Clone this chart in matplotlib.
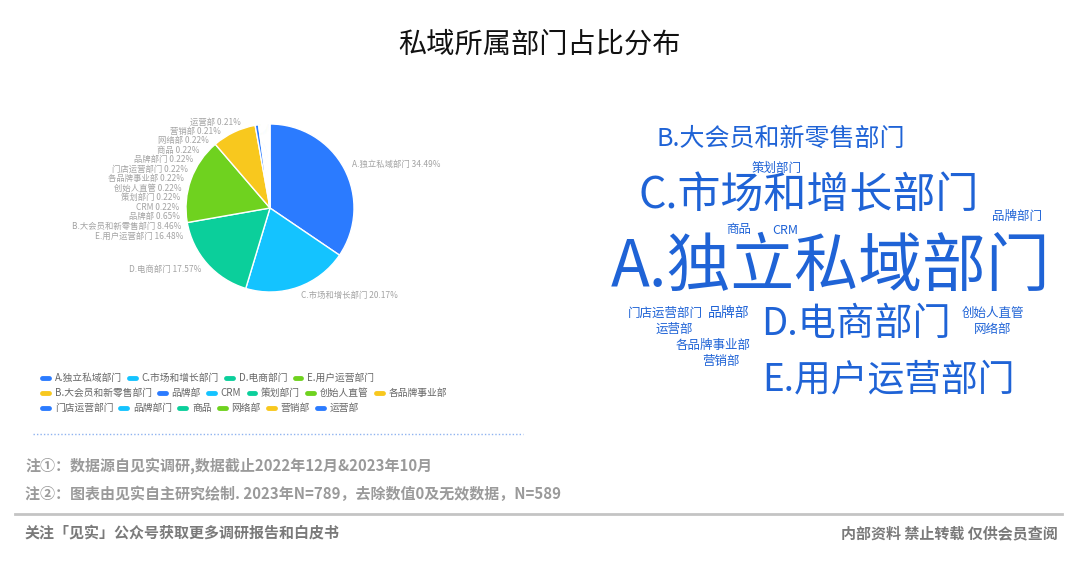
#-----------------------------------------------
# 私域所属部门占比分布 - pie + word cloud
#-----------------------------------------------
import numpy as np
import matplotlib.pyplot as plt
from matplotlib.lines import Line2D

plt.rcParams['font.family'] = ['Noto Sans CJK SC', 'DejaVu Sans']

#-----------------------------------------------
# data
#-----------------------------------------------
departments = ['A.独立私域部门', 'C.市场和增长部门', 'D.电商部门', 'E.用户运营部门',
               'B.大会员和新零售部门', '品牌部', 'CRM', '策划部门', '创始人直管',
               '各品牌事业部', '门店运营部门', '品牌部门', '商品', '网络部', '营销部', '运营部']
shares = [34.49, 20.17, 17.57, 16.48, 8.46, 0.65, 0.22, 0.22, 0.22,
          0.22, 0.22, 0.22, 0.22, 0.22, 0.21, 0.21]
legend_rows = [4, 6, 6]          # items per legend row

# word cloud layout: (word, centre x px, centre y px, font size)
cloud_layout = [
    ('B.大会员和新零售部门', 781, 139, 18),
    ('策划部门', 777, 168, 9),
    ('C.市场和增长部门', 809, 196, 31),
    ('品牌部门', 1017, 216, 9),
    ('商品', 739, 230, 9),
    ('CRM', 785, 230, 9),
    ('A.独立私域部门', 831, 268, 46),
    ('门店运营部门', 665, 313, 9),
    ('品牌部', 729, 313, 10),
    ('运营部', 674, 329, 9),
    ('D.电商部门', 856, 325, 27.5),
    ('创始人直管', 993, 313, 9),
    ('网络部', 993, 329, 9),
    ('各品牌事业部', 713, 345, 9),
    ('营销部', 721, 361, 9),
    ('E.用户运营部门', 889, 380, 26.5),
]

palette = ['#2b7bff', '#14c3ff', '#0bcf9b', '#6fd21f', '#f8c81e']
colors = [palette[i % len(palette)] for i in range(len(departments))]

W, H = 1080, 565
fig = plt.figure(figsize=(W / 100, H / 100), dpi=100)

def fx(px):
    return px / W

def fy(py):
    return 1 - py / H

#-----------------------------------------------
# title
#-----------------------------------------------
fig.text(0.5, fy(45), '私域所属部门占比分布', ha='center', va='center',
         fontsize=20.3, color='#111111')

#-----------------------------------------------
# pie
#-----------------------------------------------
cx, cy, half = 270, 208, 126
ax = fig.add_axes([fx(cx - half), fy(cy + half), 2 * half / W, 2 * half / H])
wedges, _ = ax.pie(shares, colors=colors, startangle=90, counterclock=False,
                   radius=1, wedgeprops=dict(edgecolor='white', linewidth=1))
ax.set_xlim(-1.5, 1.5)
ax.set_ylim(-1.5, 1.5)
ax.axis('off')

label_color = '#a3a3a3'
# three largest slices get labels at their mid angle
for i in range(3):
    w = wedges[i]
    ang = np.deg2rad((w.theta1 + w.theta2) / 2)
    x, y = 1.1 * np.cos(ang), 1.1 * np.sin(ang)
    ax.text(x, y, f'{departments[i]} {shares[i]:.2f}%', ha='left' if x > 0 else 'right',
            va='center', fontsize=6, color=label_color, clip_on=False)

# the rest are stacked on the left
stack = list(range(len(departments) - 1, 2, -1))
for k, i in enumerate(stack):
    y = 1.024 - k * 0.113
    x = -np.sqrt(max(1.08 ** 2 - y ** 2, 0))
    ax.text(x, y, f'{departments[i]} {shares[i]:.2f}%', ha='right', va='center',
            fontsize=6, color=label_color, clip_on=False)

#-----------------------------------------------
# legend (three rows, flow layout)
#-----------------------------------------------
start = 0
for r, n in enumerate(legend_rows):
    idx = range(start, start + n)
    handles = [Line2D([0], [0], color=colors[i], lw=3.5, solid_capstyle='round') for i in idx]
    labels = [departments[i] for i in idx]
    fig.legend(handles, labels, loc='center left', bbox_to_anchor=(fx(42), fy(378 + 15 * r)),
               ncol=n, frameon=False, fontsize=7, labelcolor='#666666',
               handlelength=0.7, handletextpad=0.6, columnspacing=0.75,
               borderpad=0, borderaxespad=0)
    start += n

# dotted separator under the pie
fig.add_artist(Line2D([fx(33), fx(523)], [fy(434), fy(434)], transform=fig.transFigure,
                      color='#8fb3f0', lw=1, linestyle=(0, (1, 1.5))))

#-----------------------------------------------
# word cloud
#-----------------------------------------------
for word, px, py, size in cloud_layout:
    fig.text(fx(px), fy(py), word, ha='center', va='center', fontsize=size,
             color='#1f63d6')

#-----------------------------------------------
# notes and footer
#-----------------------------------------------
note_color = '#9a9a9a'
fig.text(fx(25), fy(466), '注①：数据源自见实调研,数据截止2022年12月&2023年10月',
         ha='left', va='center', fontsize=10.8, fontweight='bold', color=note_color)
fig.text(fx(25), fy(494), '注②：图表由见实自主研究绘制. 2023年N=789，去除数值0及无效数据，N=589',
         ha='left', va='center', fontsize=10.8, fontweight='bold', color=note_color)

fig.add_artist(Line2D([fx(15), fx(1062)], [fy(514), fy(514)], transform=fig.transFigure,
                      color='#c4c4c4', lw=2))

fig.text(fx(25), fy(533), '关注「见实」公众号获取更多调研报告和白皮书',
         ha='left', va='center', fontsize=10.8, fontweight='bold', color='#7a7a7a')
fig.text(fx(1058), fy(533), '内部资料 禁止转载 仅供会员查阅',
         ha='right', va='center', fontsize=10.8, fontweight='bold', color='#7a7a7a')

fig.savefig('out.png', dpi=100, facecolor='white')
